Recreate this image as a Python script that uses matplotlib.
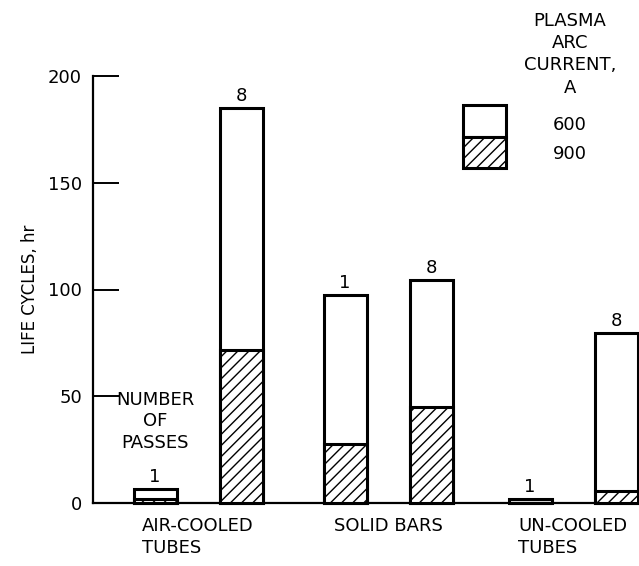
import numpy as np
import matplotlib.pyplot as plt
from matplotlib.patches import Rectangle

groups = ["AIR-COOLED\nTUBES", "SOLID BARS", "UN-COOLED\nTUBES"]
passes = ["1", "8"]
# life cycles, hr, per bar (group, passes)
life_600 = [6.5, 185, 97.5, 104.5, 2, 79.5]
life_900 = [2, 71.5, 27.5, 45, 0, 5.5]

FONT = ['Liberation Sans Narrow', 'DejaVu Sans']
plt.rcParams['font.family'] = FONT
plt.rcParams['hatch.linewidth'] = 1.0

W, H = 639, 566
fig = plt.figure(figsize=(W / 100, H / 100), dpi=100)

def px(x, y):
    # pixel (from top-left) -> figure fraction
    return x / W, 1 - y / H

ax_l, ax_r, ax_b, ax_t = 93, 639, 503, 76
ax = fig.add_axes([ax_l / W, 1 - ax_b / H, (ax_r - ax_l) / W, (ax_b - ax_t) / H])
ax.set_xlim(0, ax_r - ax_l)
ax.set_ylim(0, 200)

centers = np.array([105, 295, 480])
offs = np.array([-43, 43])
xs = (centers[:, None] + offs[None, :]).ravel()
bw = 43

ax.bar(xs, life_600, width=bw, color='white', edgecolor='black', linewidth=2.2, zorder=2, clip_on=False)
ax.bar(xs, life_900, width=bw, color='white', edgecolor='black', hatch='///', linewidth=2.2, zorder=3, clip_on=False)

for i, (x, v) in enumerate(zip(xs, life_600)):
    ax.annotate(passes[i % 2], (x, v), xytext=(0, 2), textcoords='offset points',
                ha='center', va='bottom', fontsize=13)

for c, g in zip(centers, groups):
    fig.text(*px(c + ax_l, 517), g, ha='center', va='top', multialignment='left',
             fontsize=13, linespacing=1.3)

ax.spines['top'].set_visible(False)
ax.spines['right'].set_visible(False)
ax.spines['left'].set_bounds(0, 200)
for s in ['left', 'bottom']:
    ax.spines[s].set_linewidth(1.6)
ax.set_xticks([])
ax.set_yticks([0, 50, 100, 150, 200])
ax.tick_params(axis='y', direction='in', length=19, width=1.4, pad=8, labelsize=13)
ax.set_ylabel("LIFE CYCLES, hr", fontsize=12, labelpad=6)

fig.text(*px(155, 391), "NUMBER\nOF\nPASSES", ha='center', va='top', fontsize=13, linespacing=1.25)

# legend box
x0, y0 = px(463, 168)
x1, ym = px(506, 137)
_, yt = px(463, 105)
fig.patches.append(Rectangle((x0, ym), x1 - x0, yt - ym, transform=fig.transFigure,
                             facecolor='white', edgecolor='black', linewidth=2.2))
fig.patches.append(Rectangle((x0, y0), x1 - x0, ym - y0, transform=fig.transFigure,
                             facecolor='white', edgecolor='black', hatch='///', linewidth=2.2))
fig.text(*px(570, 12), "PLASMA\nARC\nCURRENT,\nA", ha='center', va='top', fontsize=13, linespacing=1.3)
fig.text(*px(570, 125), "600", ha='center', va='center', fontsize=13)
fig.text(*px(570, 154), "900", ha='center', va='center', fontsize=13)

fig.savefig('out.png', dpi=100)
